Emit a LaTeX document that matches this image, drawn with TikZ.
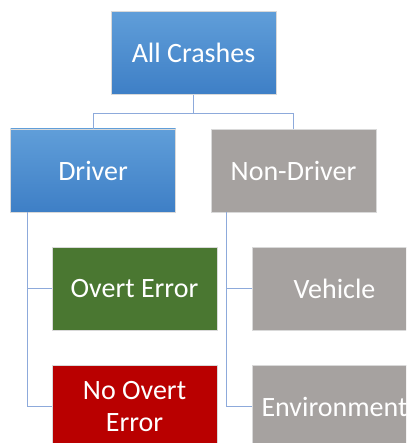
\documentclass[tikz,border=0pt]{standalone}
\usepackage{fontspec}
\setmainfont{Carlito}
\definecolor{blueTop}{HTML}{609ED9}
\definecolor{blueBot}{HTML}{3E7FC6}
\definecolor{grayBox}{HTML}{A6A2A0}
\definecolor{greenBox}{HTML}{4A7731}
\definecolor{redBox}{HTML}{B90000}
\definecolor{lineBlue}{HTML}{8DAADB}
\begin{document}
\begin{tikzpicture}[x=1pt,y=-1pt,
  box/.style={rectangle, minimum width=165pt, minimum height=83pt, inner sep=0pt,
    text=white, font=\fontsize{28}{32}\selectfont, align=center, draw=white!85!black, line width=0.4pt},
  bluebox/.style={box, top color=blueTop, bottom color=blueBot},
  graybox/.style={box, fill=grayBox},
  greenbox/.style={box, fill=greenBox},
  redbox/.style={box, fill=redBox},
  conn/.style={draw=lineBlue, line width=1pt}]
\useasboundingbox (0,0) rectangle (406,443);
\begin{scope}
\clip (0,0) rectangle (406,443);
\node[bluebox] (all) at (193.5,53) {All Crashes};
\node[bluebox] (driver) at (93,170.5) {Driver};
\node[graybox] (nondriver) at (293.5,170.5) {Non-Driver};
\node[greenbox] (overt) at (134.5,288.5) {Overt Error};
\node[graybox] (vehicle) at (334.5,288.5) {Vehicle};
\node[redbox] (noovert) at (134.5,406.5) {No Overt\\Error};
\node[graybox] (env) at (334.5,406.5) {Environment};
\coordinate (split) at ([yshift=-19pt]all.south);
\coordinate (dl) at ([xshift=17pt]driver.south west);
\coordinate (nl) at ([xshift=16pt]nondriver.south west);
\draw[conn] (all.south) -- (split) -| (driver.north);
\draw[conn] (split) -| (nondriver.north);
\draw[conn] (dl) |- (overt.west);
\draw[conn] (dl) |- (noovert.west);
\draw[conn] (nl) |- (vehicle.west);
\draw[conn] (nl) |- (env.west);
\end{scope}
\end{tikzpicture}
\end{document}
